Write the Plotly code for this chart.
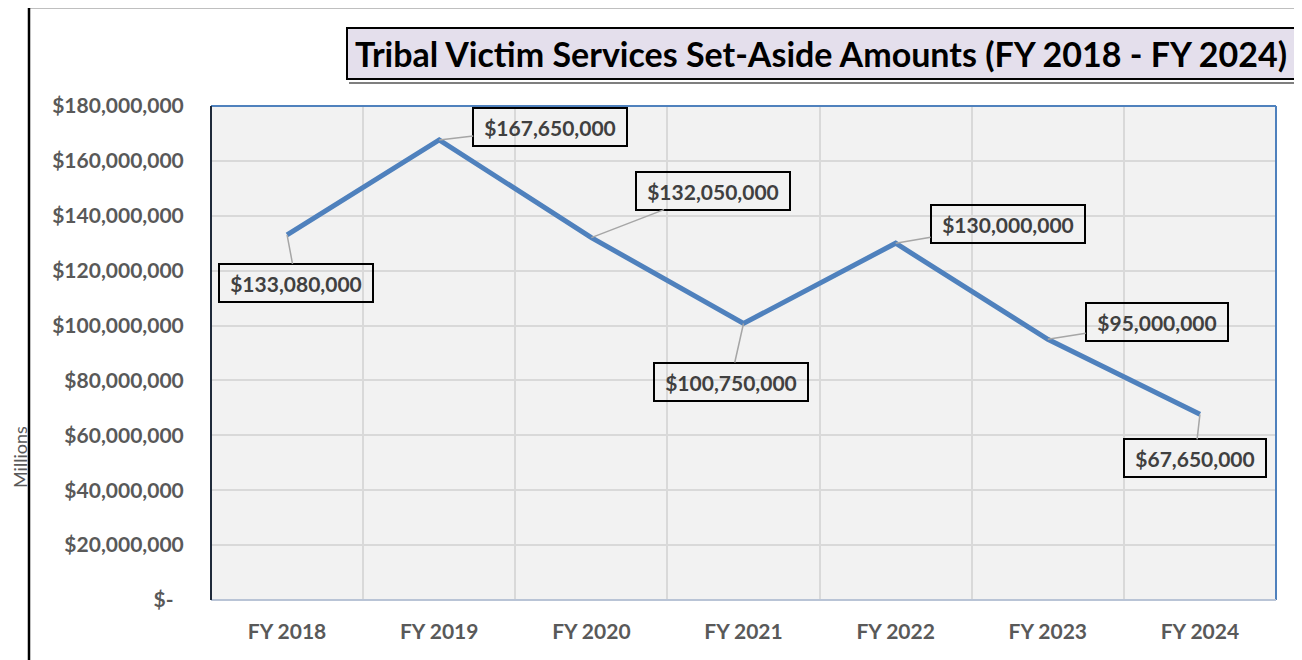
import plotly.graph_objects as go

# ---- data ----
categories = ["FY 2018", "FY 2019", "FY 2020", "FY 2021", "FY 2022", "FY 2023", "FY 2024"]
amounts = [133080000, 167650000, 132050000, 100750000, 130000000, 95000000, 67650000]
label_texts = ["$133,080,000", "$167,650,000", "$132,050,000", "$100,750,000",
               "$130,000,000", "$95,000,000", "$67,650,000"]
y_tickvals = [0, 20000000, 40000000, 60000000, 80000000, 100000000,
              120000000, 140000000, 160000000, 180000000]
y_ticktext = ["$-\u00a0\u00a0", "$20,000,000", "$40,000,000", "$60,000,000", "$80,000,000",
              "$100,000,000", "$120,000,000", "$140,000,000", "$160,000,000", "$180,000,000"]
title_text = "Tribal Victim Services Set-Aside Amounts (FY 2018 - FY 2024)"

# label offsets (pixels, box center relative to point)
label_ax = [9, 111, 122, -13, 112, 109, -5]
label_ay = [48, -13, -47, 58, -19, -17, 44]

OFF = 8  # page body margin
W, H = 1302 - OFF, 660 - OFF
L, R, T, B = 211 - OFF, 26, 106 - OFF, 60
pw, ph = W - L - R, H - T - B


def px(x):
    return (x - OFF - L) / pw


def py(y):
    return (H - B - (y - OFF)) / ph


FONT = "Lato"
fig = go.Figure()
fig.add_trace(go.Scatter(
    x=categories, y=amounts, mode="lines",
    line=dict(color="#4F81BD", width=5),
    hoverinfo="skip", showlegend=False,
))

annotations = []
for c, v, t, ax, ay in zip(categories, amounts, label_texts, label_ax, label_ay):
    annotations.append(dict(
        x=c, y=v, xref="x", yref="y", text="<b>" + t + "</b>",
        showarrow=True, arrowhead=0, arrowwidth=1.5, arrowcolor="#A6A6A6",
        ax=ax, ay=ay, standoff=0,
        font=dict(family=FONT, size=21, color="#404040"),
        bordercolor="#000000", borderwidth=2, borderpad=4,
        width=144 if len(t) > 11 else 132, height=28,
    ))

# title box
annotations.append(dict(
    x=px((345 + 1297) / 2), y=py((26 + 81) / 2), xref="paper", yref="paper",
    xanchor="center", yanchor="middle", showarrow=False,
    text="<b>" + title_text + "</b>",
    font=dict(family=FONT, size=34, color="#000000"),
    bgcolor="#E4DFEC", bordercolor="#000000", borderwidth=2, borderpad=0,
    width=946, height=49,
))
# y axis title
annotations.append(dict(
    x=px(20), y=py(457), xref="paper", yref="paper", xanchor="center", yanchor="middle",
    showarrow=False, text="Millions", textangle=-90,
    font=dict(family=FONT, size=18, color="#595959"),
))

shapes = [
    # outer frame
    dict(type="rect", xref="paper", yref="paper", x0=px(29), x1=px(1320), y0=py(680), y1=py(7),
         line=dict(color="#000000", width=2.5), fillcolor="rgba(0,0,0,0)", layer="below"),
    # title shadow
    dict(type="line", xref="paper", yref="paper", x0=px(1299), x1=px(1299), y0=py(30), y1=py(83),
         line=dict(color="#7F7F7F", width=2)),
    dict(type="line", xref="paper", yref="paper", x0=px(349), x1=px(1299), y0=py(83), y1=py(83),
         line=dict(color="#7F7F7F", width=2)),
    # plot area borders
    dict(type="line", xref="paper", yref="paper", x0=0, x1=1, y0=1, y1=1,
         line=dict(color="#4F81BD", width=2)),
    dict(type="line", xref="paper", yref="paper", x0=1, x1=1, y0=0, y1=1,
         line=dict(color="#4F81BD", width=2)),
    dict(type="line", xref="paper", yref="paper", x0=0, x1=1, y0=0, y1=0,
         line=dict(color="#B9C4D6", width=2)),
    dict(type="line", xref="paper", yref="paper", x0=0, x1=0, y0=0, y1=1,
         line=dict(color="#1F2A3A", width=2)),
]

fig.update_layout(
    width=W, height=H,
    margin=dict(l=L, r=R, t=T, b=B, pad=0),
    paper_bgcolor="#FFFFFF", plot_bgcolor="#F2F2F2",
    showlegend=False,
    annotations=annotations, shapes=shapes,
    xaxis=dict(
        type="category", categoryorder="array", categoryarray=categories,
        range=[-0.5, 6.5], tickson="boundaries",
        showgrid=True, gridcolor="#D9D9D9", gridwidth=2,
        ticks="", ticklabelstandoff=17,
        tickfont=dict(family=FONT, size=21, color="#595959", weight="bold"),
        showline=False, zeroline=False, fixedrange=True,
    ),
    yaxis=dict(
        range=[0, 180000000], tickvals=y_tickvals, ticktext=y_ticktext,
        showgrid=True, gridcolor="#D9D9D9", gridwidth=2,
        ticks="outside", ticklen=22, tickcolor="rgba(0,0,0,0)",
        tickfont=dict(family=FONT, size=21, color="#595959", weight="bold"),
        showline=False, zeroline=False, fixedrange=True,
    ),
)

fig.write_html("out.html")
